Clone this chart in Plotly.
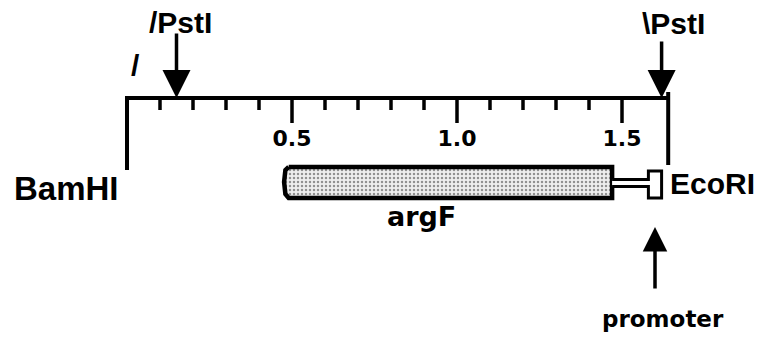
import plotly.graph_objects as go

# ---- data (kb along the map) ----
map_start = 0.0          # BamHI end
map_end = 1.64           # EcoRI end
minor_ticks = [0.1, 0.2, 0.3, 0.4, 0.6, 0.7, 0.8, 0.9, 1.1, 1.2, 1.3, 1.4]
major_ticks = [0.5, 1.0, 1.5]
major_labels = ["0.5", "1.0", "1.5"]
pst_sites = [0.15, 1.62]
pst_labels = ["/PstI", "\\PstI"]
gene_name = "argF"
gene_start = 0.48
gene_end = 1.47
terminator_stem_end = 1.58
terminator_cap_end = 1.62
promoter_pos = 1.60
end_labels = ["BamHI", "EcoRI"]

# ---- layout constants (pixel rows, y axis reversed) ----
W, H = 781, 338
X0_PX, PX_PER_KB = 127, 330
Y_LINE = 98
BLACK = "black"
ARIAL = "Liberation Sans, Arial, sans-serif"
DEJA = "DejaVu Sans, sans-serif"


def b(s):
    return "<b>" + s + "</b>"


fig = go.Figure()

# scale line + BamHI end bar
fig.add_trace(go.Scatter(x=[map_start, map_start, map_end], y=[170, Y_LINE, Y_LINE],
                         mode="lines", line=dict(color=BLACK, width=4), hoverinfo="skip"))
# EcoRI end bar
fig.add_trace(go.Scatter(x=[map_end, map_end], y=[92, 165], mode="lines",
                         line=dict(color=BLACK, width=4), hoverinfo="skip"))

# ticks
tx, ty = [], []
for t in minor_ticks:
    tx += [t, t, None]; ty += [Y_LINE, 110, None]
for t in major_ticks:
    tx += [t, t, None]; ty += [Y_LINE, 123, None]
fig.add_trace(go.Scatter(x=tx, y=ty, mode="lines", line=dict(color=BLACK, width=3.5),
                         hoverinfo="skip"))
fig.add_trace(go.Scatter(x=major_ticks, y=[140] * len(major_ticks), mode="text",
                         text=[b(s) for s in major_labels],
                         textfont=dict(family=DEJA, size=22, color=BLACK),
                         hoverinfo="skip"))

# gene box (stippled)
gx = [gene_start + 0.01, gene_end, gene_end, gene_start + 0.01, gene_start,
      gene_start - 0.004, gene_start, gene_start + 0.01]
gy = [167, 167, 198, 198, 194, 182, 170, 167]
fig.add_trace(go.Scatter(x=gx, y=gy, mode="lines", fill="toself",
                         fillcolor="white",
                         fillpattern=dict(shape=".", fgcolor="#333", bgcolor="#eeeeee",
                                          size=4, solidity=0.3),
                         line=dict(color=BLACK, width=4.5), hoverinfo="skip"))
# terminator stem + cap
cap_start = terminator_stem_end
sx = [gene_end, cap_start, cap_start, terminator_cap_end, terminator_cap_end,
      cap_start, cap_start, gene_end]
sy = [179.5, 179.5, 171, 171, 198, 198, 186.5, 186.5]
fig.add_trace(go.Scatter(x=sx, y=sy, mode="lines", fill="toself", fillcolor="white",
                         line=dict(color=BLACK, width=3), hoverinfo="skip"))

annotations = []
# PstI arrows and labels
for site, lab, tail, shift, ty_ in zip(pst_sites, pst_labels, [32, 40], [4, 12], [22, 23]):
    annotations.append(dict(x=site, y=Y_LINE, ax=site, ay=tail, xref="x", yref="y",
                            axref="x", ayref="y", showarrow=True, arrowhead=2,
                            arrowsize=1.6, arrowwidth=3.5, arrowcolor=BLACK, text="",
                            standoff=0))
    annotations.append(dict(x=site, y=ty_, xref="x", yref="y", text=b(lab), showarrow=False,
                            xshift=shift, font=dict(family=ARIAL, size=30, color=BLACK)))
# slash break mark
annotations.append(dict(x=map_start, y=65, xref="x", yref="y", text=b("/"), showarrow=False,
                        xshift=8, font=dict(family=ARIAL, size=30, color=BLACK)))
# end labels
annotations.append(dict(x=map_start, y=188, xref="x", yref="y", text=b(end_labels[0]),
                        showarrow=False, xanchor="right", xshift=-6,
                        font=dict(family=ARIAL, size=33, color=BLACK)))
annotations.append(dict(x=map_end, y=183, xref="x", yref="y", text=b(end_labels[1]),
                        showarrow=False, xanchor="left", xshift=0,
                        font=dict(family=ARIAL, size=30, color=BLACK)))
# gene name
annotations.append(dict(x=(gene_start + gene_end) / 2, y=216, xref="x", yref="y",
                        text=b(gene_name), showarrow=False, xshift=-27,
                        font=dict(family=DEJA, size=27, color=BLACK)))
# promoter arrow + label
annotations.append(dict(x=promoter_pos, y=227, ax=promoter_pos, ay=290, xref="x", yref="y",
                        axref="x", ayref="y", showarrow=True, arrowhead=2, arrowsize=1.4,
                        arrowwidth=3.5, arrowcolor=BLACK, text="", standoff=0))
annotations.append(dict(x=promoter_pos, y=319, xref="x", yref="y", text=b("promoter"),
                        showarrow=False, xshift=8,
                        font=dict(family=DEJA, size=23, color=BLACK)))

fig.update_layout(
    width=W, height=H, margin=dict(l=0, r=0, t=0, b=0),
    paper_bgcolor="white", plot_bgcolor="white", showlegend=False,
    xaxis=dict(range=[-X0_PX / PX_PER_KB, (W - X0_PX) / PX_PER_KB], visible=False,
               fixedrange=True),
    yaxis=dict(range=[H, 0], visible=False, fixedrange=True),
    annotations=annotations,
)
fig.write_html("out.html")
